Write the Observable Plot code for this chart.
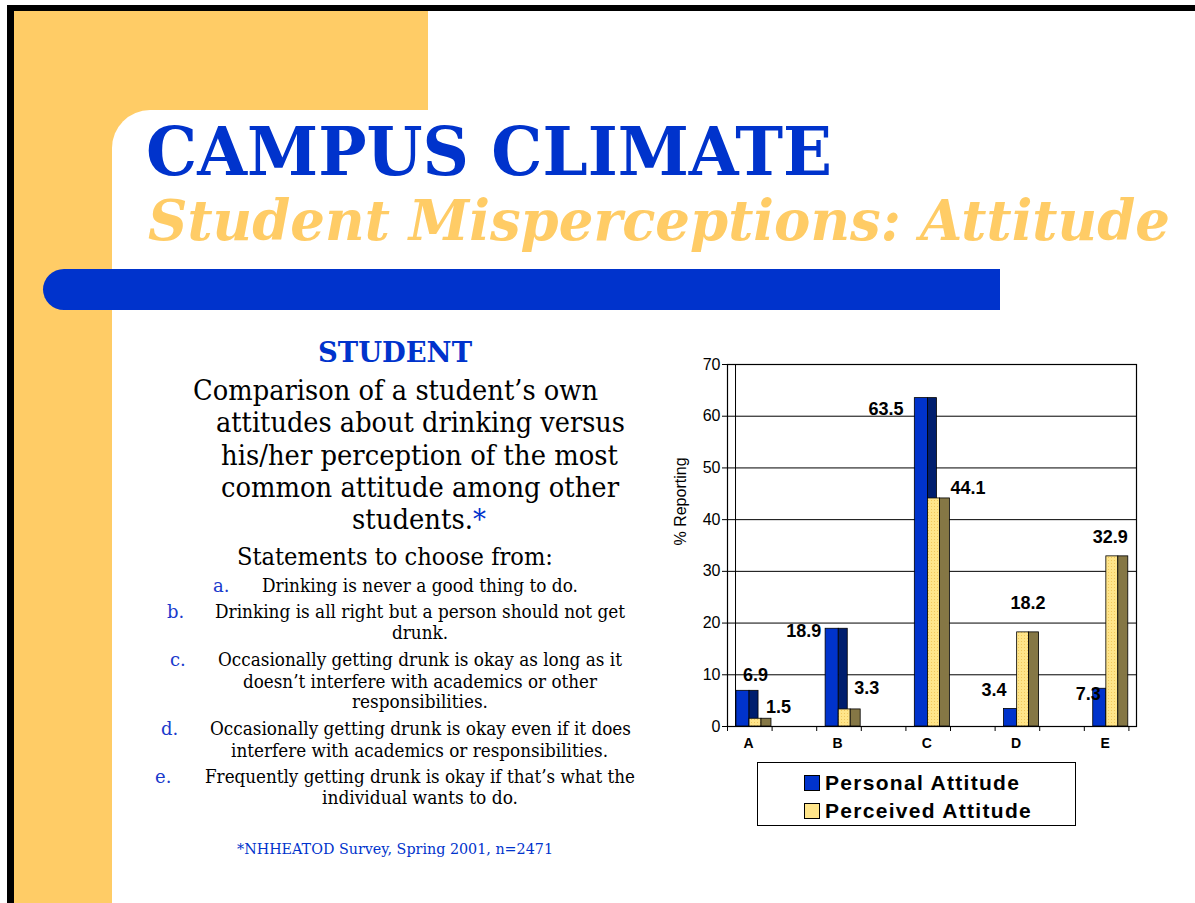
<!DOCTYPE html>
<html><head><meta charset="utf-8">
<script src="https://cdn.jsdelivr.net/npm/d3@7"></script>
<script src="https://cdn.jsdelivr.net/npm/@observablehq/plot@0.6"></script>
<style>
html,body{margin:0;padding:0;background:#fff}
body{width:1195px;height:903px;overflow:hidden;position:relative;font-family:"Liberation Sans",Arial,sans-serif}
#bg{position:absolute;left:0;top:0}
#chart{position:absolute;left:660px;top:340px}
#legend{position:absolute;left:757px;top:762px;width:319px;height:64px;border:1px solid #000;background:#fff;box-sizing:border-box}
.item{position:absolute;left:46px;height:22px;display:flex;align-items:center;font-weight:bold;font-size:21px;letter-spacing:1.3px;color:#000;white-space:nowrap}
.sw{width:14px;height:14px;border:1px solid #000;margin-right:5px;flex:none}
.serif{font-family:"DejaVu Serif",serif}
</style></head><body>
<svg id="bg" width="1195" height="903" xmlns="http://www.w3.org/2000/svg">
  <rect x="7" y="5" width="1188" height="6" fill="#000"/>
  <rect x="7" y="5" width="7" height="898" fill="#000"/>
  <rect x="14" y="11" width="414" height="140" fill="#FFCC66"/>
  <rect x="14" y="11" width="140" height="892" fill="#FFCC66"/>
  <rect x="112" y="110" width="2000" height="2000" rx="38" ry="38" fill="#fff"/>
  <rect x="112" y="200" width="60" height="703" fill="#fff"/>
  <rect x="43" y="269" width="80" height="41" rx="21" ry="21" fill="#0033CC"/>
  <rect x="70" y="269" width="930" height="41" fill="#0033CC"/>
  <g class="serif" font-weight="bold">
    <text x="146" y="175" font-size="67" fill="#0033CC" textLength="686" lengthAdjust="spacingAndGlyphs">CAMPUS CLIMATE</text>
    <text transform="translate(148,240) scale(1,1.12)" x="0" y="0" font-size="50" font-style="italic" fill="#FFCC66" textLength="1022" lengthAdjust="spacingAndGlyphs">Student Misperceptions: Attitude</text>
    <text x="318" y="362" font-size="28" fill="#0033CC" textLength="154" lengthAdjust="spacingAndGlyphs">STUDENT</text>
  </g>
  <g class="serif" fill="#000" font-size="27">
    <text x="193" y="400" textLength="405" lengthAdjust="spacingAndGlyphs">Comparison of a student’s own</text>
    <text x="216" y="432" textLength="409" lengthAdjust="spacingAndGlyphs">attitudes about drinking versus</text>
    <text x="221" y="465" textLength="397" lengthAdjust="spacingAndGlyphs">his/her perception of the most</text>
    <text x="221" y="497" textLength="398" lengthAdjust="spacingAndGlyphs">common attitude among other</text>
    <text x="352" y="529" textLength="134" lengthAdjust="spacingAndGlyphs">students.<tspan fill="#0033CC">*</tspan></text>
    <text x="237" y="565" font-size="25" textLength="316" lengthAdjust="spacingAndGlyphs">Statements to choose from:</text>
  </g>
  <g class="serif" font-size="18" fill="#000">
    <text x="213" y="592" fill="#1a3acc">a.</text>
    <text x="262" y="592" textLength="316" lengthAdjust="spacingAndGlyphs">Drinking is never a good thing to do.</text>
    <text x="167" y="618" fill="#1a3acc">b.</text>
    <text x="215" y="618" textLength="410" lengthAdjust="spacingAndGlyphs">Drinking is all right but a person should not get</text>
    <text x="392" y="639" textLength="56" lengthAdjust="spacingAndGlyphs">drunk.</text>
    <text x="170" y="666" fill="#1a3acc">c.</text>
    <text x="218" y="666" textLength="404" lengthAdjust="spacingAndGlyphs">Occasionally getting drunk is okay as long as it</text>
    <text x="243" y="688" textLength="354" lengthAdjust="spacingAndGlyphs">doesn’t interfere with academics or other</text>
    <text x="352" y="708" textLength="136" lengthAdjust="spacingAndGlyphs">responsibilities.</text>
    <text x="161" y="735" fill="#1a3acc">d.</text>
    <text x="210" y="735" textLength="421" lengthAdjust="spacingAndGlyphs">Occasionally getting drunk is okay even if it does</text>
    <text x="231" y="757" textLength="377" lengthAdjust="spacingAndGlyphs">interfere with academics or responsibilities.</text>
    <text x="155" y="783" fill="#1a3acc">e.</text>
    <text x="205" y="783" textLength="430" lengthAdjust="spacingAndGlyphs">Frequently getting drunk is okay if that’s what the</text>
    <text x="322" y="804" textLength="196" lengthAdjust="spacingAndGlyphs">individual wants to do.</text>
    <text x="237" y="854" font-size="15" fill="#0033CC" textLength="316" lengthAdjust="spacingAndGlyphs">*NHHEATOD Survey, Spring 2001, n=2471</text>
  </g>
</svg>
<div id="chart"></div>
<div id="legend">
  <div class="item" style="top:9px"><span class="sw" style="background:#0033CC"></span>Personal Attitude</div>
  <div class="item" style="top:37px"><span class="sw" style="background:#FFE58A"></span>Perceived Attitude</div>
</div>
<script>
// ---- data ----
const categories = ["A", "B", "C", "D", "E"];
const personal = [6.9, 18.9, 63.5, 3.4, 7.3];
const perceived = [1.5, 3.3, 44.1, 18.2, 32.9];
const yTicks = [0, 10, 20, 30, 40, 50, 60, 70];
const seriesNames = ["Personal Attitude", "Perceived Attitude"];

// ---- layout (band units: one category = 1) ----
const xMax = 4.585;          // right wall of the plot box
const wallDepth = 0.09;      // inner back-wall line
const halfTicks = d3.range(0, 5, 0.5);
const seg = {b0: 0.10, b1: 0.247, bs: 0.348, y0: 0.247, y1: 0.381, ys: 0.493};
const labelCenter = 0.235;
// label nudges in px (relative to band start, value)
const pNudge = [[28, -16], [-13, 2], [-20, 11], [-1, -19], [4, 5]];
const qNudge = [[51, -12], [50, -21], [62, -10], [33, -29], [26, -19]];

const rows = categories.map((c, i) => ({c, i, p: personal[i], q: perceived[i]}));
const edge = {stroke: "#000", strokeWidth: 0.8};

const labels = rows.flatMap((r, i) => [
  Plot.text([r], {x: d => d.i, y: d => d.p, text: d => d.p.toFixed(1), dx: pNudge[i][0], dy: pNudge[i][1],
    fontWeight: "bold", fontSize: 18, fill: "#000"}),
  Plot.text([r], {x: d => d.i, y: d => d.q, text: d => d.q.toFixed(1), dx: qNudge[i][0], dy: qNudge[i][1],
    fontWeight: "bold", fontSize: 18, fill: "#000"})
]);

const chart = Plot.plot({
  width: 490, height: 430,
  marginLeft: 67, marginRight: 14, marginTop: 24, marginBottom: 44,
  x: {domain: [0, xMax], axis: null},
  y: {domain: [0, 70], axis: null},
  style: {fontFamily: "Liberation Sans, Arial, sans-serif", color: "#000", background: "transparent", overflow: "visible"},
  marks: [
    Plot.gridY(yTicks.slice(1, -1), {stroke: "#000", strokeOpacity: 1, strokeWidth: 1}),
    Plot.ruleX([wallDepth], {stroke: "#000", strokeWidth: 1}),
    Plot.frame({stroke: "#000", strokeWidth: 1.2}),
    Plot.axisY(yTicks, {tickSize: 5, tickPadding: 2, fontSize: 16, label: null, stroke: "#000"}),
    Plot.axisX(halfTicks, {tickSize: 5, tickFormat: () => "", label: null, stroke: "#000"}),
    Plot.text(categories, {x: (d, i) => i + labelCenter, y: 0, dy: 17, text: d => d, fontWeight: "bold", fontSize: 14}),
    Plot.text(["% Reporting"], {frameAnchor: "left", rotate: -90, dx: -47, text: d => d, fontSize: 16}),
    Plot.rect(rows, {x1: d => d.i + seg.b0, x2: d => d.i + seg.b1, y1: 0, y2: "p", fill: "#0033CC", ...edge}),
    Plot.rect(rows, {x1: d => d.i + seg.b1, x2: d => d.i + seg.bs, y1: 0, y2: "p", fill: "#001E6E", ...edge}),
    Plot.rect(rows, {x1: d => d.i + seg.y0, x2: d => d.i + seg.y1, y1: 0, y2: "q", fill: "url(#dots)", ...edge}),
    Plot.rect(rows, {x1: d => d.i + seg.y1, x2: d => d.i + seg.ys, y1: 0, y2: "q", fill: "#857745", ...edge}),
    ...labels
  ]
});

const defs = d3.select(chart).insert("defs", ":first-child");
const pat = defs.append("pattern").attr("id", "dots").attr("width", 3).attr("height", 3).attr("patternUnits", "userSpaceOnUse");
pat.append("rect").attr("width", 3).attr("height", 3).attr("fill", "#FFE58A");
pat.append("rect").attr("x", 1).attr("y", 1).attr("width", 1).attr("height", 1).attr("fill", "#F0C75C");

document.getElementById("chart").appendChild(chart);
</script>
</body></html>
